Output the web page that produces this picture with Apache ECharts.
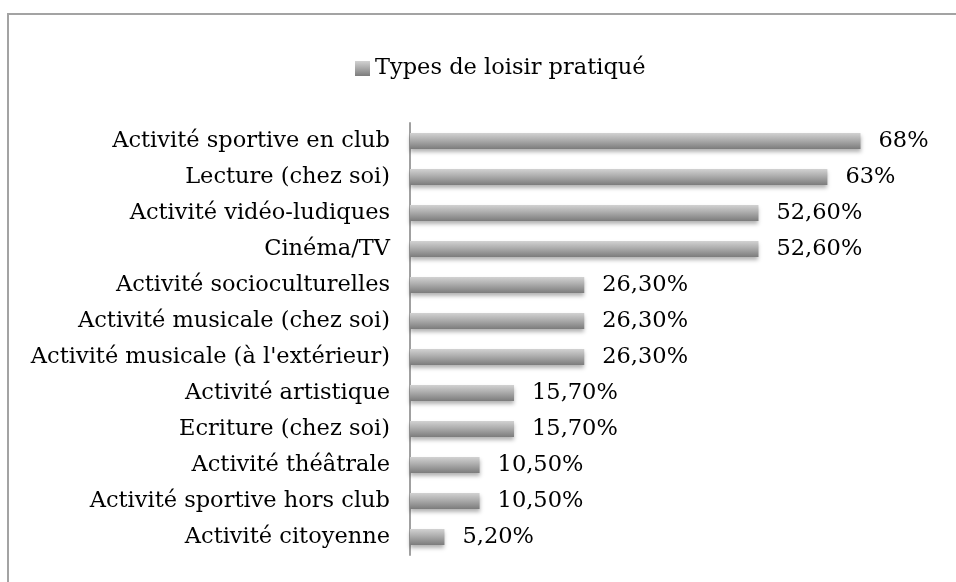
<!DOCTYPE html>
<html>
<head>
<meta charset="utf-8">
<script src="https://cdn.jsdelivr.net/npm/echarts@6/dist/echarts.min.js"></script>
<style>
  html, body { margin: 0; padding: 0; background: #fff; }
  #chart { width: 956px; height: 582px; }
</style>
</head>
<body>
<div id="chart"></div>
<script>
// catégories (de haut en bas)
const categories = [
  'Activité sportive en club',
  'Lecture (chez soi)',
  'Activité vidéo-ludiques',
  'Cinéma/TV',
  'Activité socioculturelles',
  'Activité musicale (chez soi)',
  "Activité musicale (à l'extérieur)",
  'Activité artistique',
  'Ecriture (chez soi)',
  'Activité théâtrale',
  'Activité sportive hors club',
  'Activité citoyenne'
]
const values = [68, 63, 52.6, 52.6, 26.3, 26.3, 26.3, 15.7, 15.7, 10.5, 10.5, 5.2]
const valueLabels = ['68%', '63%', '52,60%', '52,60%', '26,30%', '26,30%', '26,30%', '15,70%', '15,70%', '10,50%', '10,50%', '5,20%']
const seriesName = 'Types de loisir pratiqué'

const font = 'DejaVu Serif'
const fontSize = 22.5

const chart = echarts.init(document.getElementById('chart'))

const barGradient = new echarts.graphic.LinearGradient(0, 0, 0, 1, [
  { offset: 0, color: '#d2d2d2' },
  { offset: 0.5, color: '#a8a8a8' },
  { offset: 1, color: '#7c7c7c' }
])

const option = {
  animation: false,
  textStyle: { fontFamily: font },
  graphic: [
    {
      type: 'rect',
      shape: { x: 8, y: 14, width: 1000, height: 1000 },
      style: { fill: 'none', stroke: '#a3a3a3', lineWidth: 2 },
      silent: true
    }
  ],
  legend: {
    top: 52,
    left: 350,
    icon: 'rect',
    itemWidth: 15,
    itemHeight: 15,
    itemGap: 6,
    textStyle: { fontFamily: font, fontSize: fontSize, color: '#000' },
    data: [seriesName]
  },
  grid: {
    left: 410,
    right: 16,
    top: 123,
    bottom: 27,
    containLabel: false
  },
  xAxis: {
    type: 'value',
    min: 0,
    max: 80,
    show: false
  },
  yAxis: {
    type: 'category',
    inverse: true,
    data: categories,
    axisLine: { show: true, lineStyle: { color: '#a0a0a0', width: 2 } },
    axisTick: { show: false },
    axisLabel: {
      margin: 20,
      fontFamily: font,
      fontSize: fontSize,
      color: '#000'
    }
  },
  series: [
    {
      name: seriesName,
      type: 'bar',
      data: values,
      barWidth: 16,
      itemStyle: {
        color: barGradient,
        shadowColor: 'rgba(0,0,0,0.3)',
        shadowBlur: 4,
        shadowOffsetY: 3
      },
      label: {
        show: true,
        position: 'right',
        distance: 18,
        fontFamily: font,
        fontSize: fontSize,
        color: '#000',
        formatter: p => valueLabels[p.dataIndex]
      }
    }
  ]
}

chart.setOption(option)
</script>
</body>
</html>
